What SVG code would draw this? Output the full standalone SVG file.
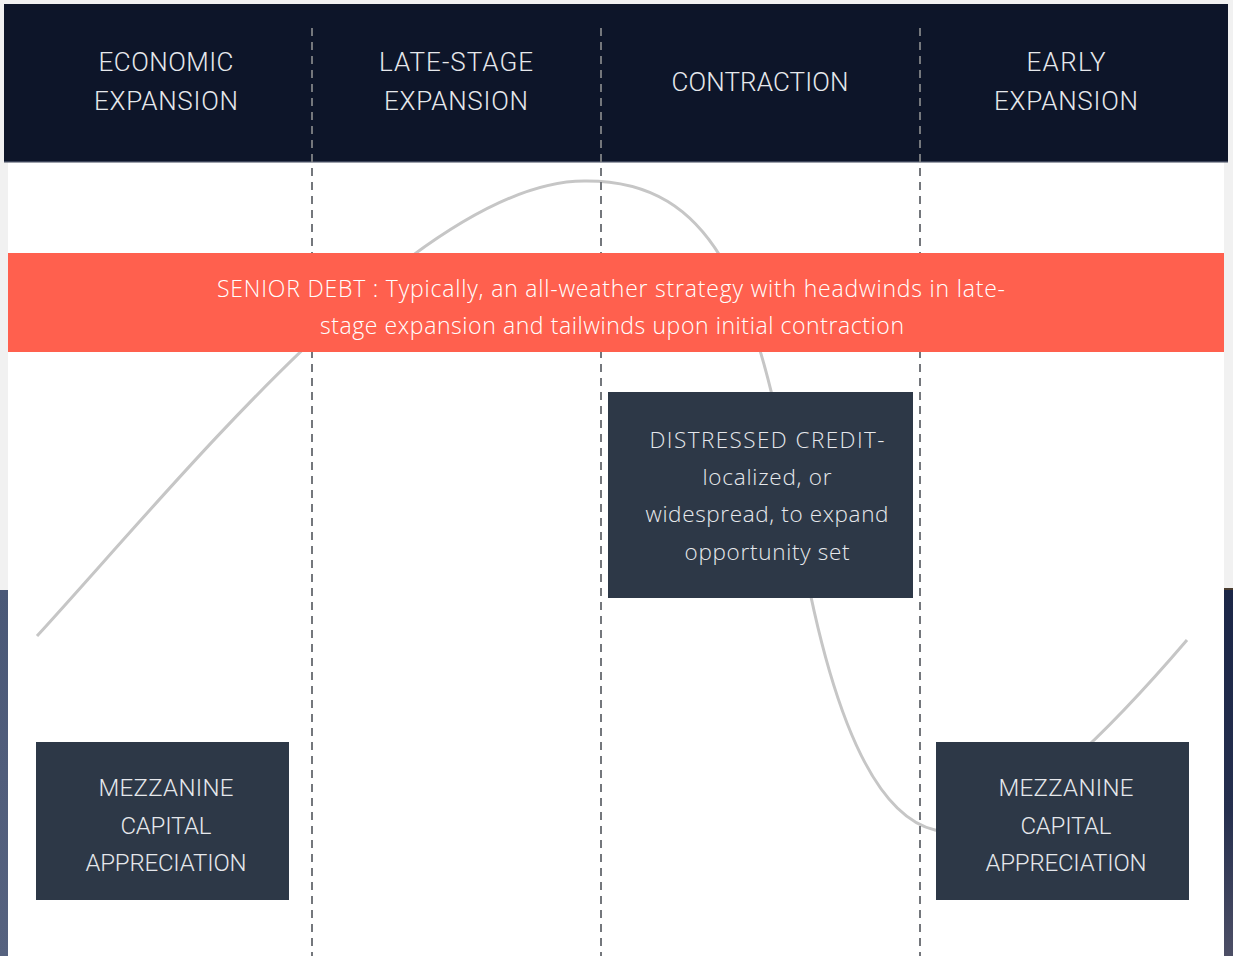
<svg xmlns="http://www.w3.org/2000/svg" width="1233" height="956" viewBox="0 0 1233 956">
  <defs>
    <linearGradient id="leftEdge" x1="0" y1="0" x2="0" y2="1">
      <stop offset="0" stop-color="#4a5877"/>
      <stop offset="1" stop-color="#56627f"/>
    </linearGradient>
    <linearGradient id="rightEdge" x1="0" y1="0" x2="0" y2="1">
      <stop offset="0" stop-color="#1b2647"/>
      <stop offset="0.6" stop-color="#252f4e"/>
      <stop offset="1" stop-color="#4d4f66"/>
    </linearGradient>
    <style>
      .head { font-family: Roboto, "Liberation Sans", sans-serif; font-weight: 300; font-size: 26px; fill: #e6e8ec; text-anchor: middle; }
      .band { font-family: "Open Sans", Lato, sans-serif; font-weight: 300; font-size: 23px; fill: #ffffff; text-anchor: middle; }
      .box  { fill: #2d3847; }
      .boxText { font-family: "Open Sans", Lato, sans-serif; font-weight: 300; font-size: 22.5px; fill: #e6e8ec; text-anchor: middle; }
      .capsText { font-family: Roboto, "Liberation Sans", sans-serif; font-weight: 300; font-size: 24px; fill: #e6e8ec; text-anchor: middle; }
      .divider { stroke: #74777c; stroke-width: 2; stroke-dasharray: 8 6; fill: none; }
      .cycle { stroke: #c6c6c6; stroke-width: 3; fill: none; }
    </style>
  </defs>

  <!-- page background and edges -->
  <rect x="0" y="0" width="1233" height="956" fill="#f1f1f1"/>
  <rect x="0" y="590" width="8" height="366" fill="url(#leftEdge)"/>
  <rect x="1224" y="588" width="9" height="368" fill="url(#rightEdge)"/>
  <rect x="1224" y="588" width="9" height="2" fill="#4a3d30"/>

  <!-- white panel -->
  <rect x="8" y="160" width="1216" height="796" fill="#ffffff"/>

  <!-- header bar -->
  <g id="header">
    <rect x="4" y="4" width="1224" height="158" fill="#0d1529"/>
    <rect x="4" y="161" width="1224" height="1.5" fill="#3c4459"/>
  </g>

  <!-- business cycle curve -->
  <g id="cycle-curve">
    <path class="cycle" d="M37,636 C180,480 420,180 585,181 C715,180 760,290 800,540 C828,700 870,815 935,830 C1000,845 1110,730 1187,640"/>
  </g>

  <!-- phase dividers -->
  <g id="connectors">
    <line class="divider" x1="312" y1="28" x2="312" y2="956"/>
    <line class="divider" x1="601" y1="28" x2="601" y2="956"/>
    <line class="divider" x1="920" y1="28" x2="920" y2="956"/>
  </g>

  <!-- phase titles -->
  <g id="phase-economic-expansion">
    <text class="head" x="166" y="71" textLength="135">ECONOMIC</text>
    <text class="head" x="166" y="110" textLength="144">EXPANSION</text>
  </g>
  <g id="phase-late-stage-expansion">
    <text class="head" x="456" y="71" textLength="154">LATE-STAGE</text>
    <text class="head" x="456" y="110" textLength="144">EXPANSION</text>
  </g>
  <g id="phase-contraction">
    <text class="head" x="760" y="91" textLength="177">CONTRACTION</text>
  </g>
  <g id="phase-early-expansion">
    <text class="head" x="1066" y="71" textLength="79">EARLY</text>
    <text class="head" x="1066" y="110" textLength="144">EXPANSION</text>
  </g>

  <!-- senior debt band -->
  <g id="senior-debt">
    <rect x="8" y="253" width="1216" height="99" fill="#ff604e"/>
    <text class="band" x="611" y="297" textLength="788">SENIOR DEBT :  Typically, an all-weather strategy with headwinds in late-</text>
    <text class="band" x="612" y="334" textLength="584">stage expansion and tailwinds upon initial contraction</text>
  </g>

  <!-- distressed credit -->
  <g id="distressed-credit">
    <rect class="box" x="608" y="392" width="305" height="206"/>
    <text class="boxText" x="767" y="448" textLength="235">DISTRESSED CREDIT-</text>
    <text class="boxText" x="767" y="485" textLength="129">localized, or</text>
    <text class="boxText" x="767" y="522" textLength="243">widespread, to expand</text>
    <text class="boxText" x="767" y="560" textLength="165">opportunity set</text>
  </g>

  <!-- mezzanine, left -->
  <g id="mezzanine-left">
    <rect class="box" x="36" y="742" width="253" height="158"/>
    <text class="capsText" x="166" y="796" textLength="135">MEZZANINE</text>
    <text class="capsText" x="166" y="834" textLength="91">CAPITAL</text>
    <text class="capsText" x="166" y="871" textLength="161">APPRECIATION</text>
  </g>

  <!-- mezzanine, right -->
  <g id="mezzanine-right">
    <rect class="box" x="936" y="742" width="253" height="158"/>
    <text class="capsText" x="1066" y="796" textLength="135">MEZZANINE</text>
    <text class="capsText" x="1066" y="834" textLength="91">CAPITAL</text>
    <text class="capsText" x="1066" y="871" textLength="161">APPRECIATION</text>
  </g>
</svg>
